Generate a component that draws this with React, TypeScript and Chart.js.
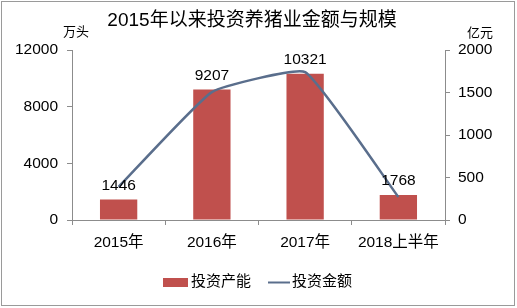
import React, { useEffect, useRef } from "react";
import { Chart, registerables } from "chart.js";

Chart.register(...registerables);

const categories = ["2015年", "2016年", "2017年", "2018上半年"];
const capacity = [1446, 9207, 10321, 1768];
const amount = [390, 1505, 1740, 270];
const leftTicks = [0, 4000, 8000, 12000];
const rightTicks = [0, 500, 1000, 1500, 2000];

const FONT = "'Liberation Sans', Arial, 'Noto Sans CJK SC', sans-serif";
const BAR = "#C0504D";
const LINE = "#5A6E8C";
const AXIS = "#8C8C8C";

const overlay = {
  id: "overlay",
  afterDatasetsDraw(chart: any) {
    const ctx = chart.ctx;
    ctx.save();
    ctx.strokeStyle = "#9A9A9A";
    ctx.lineWidth = 1;
    ctx.strokeRect(1.5, 1.5, 513, 304);
    ctx.fillStyle = "#000";
    ctx.textAlign = "center";
    ctx.textBaseline = "middle";
    ctx.font = `19px ${FONT}`;
    ctx.fillText("2015年以来投资养猪业金额与规模", 252, 21);
    ctx.font = `13px ${FONT}`;
    ctx.fillText("万头", 76, 32);
    ctx.fillText("亿元", 480, 33);
    const meta = chart.getDatasetMeta(0);
    ctx.font = `15.5px ${FONT}`;
    ctx.textBaseline = "alphabetic";
    meta.data.forEach((el: any, i: number) => {
      ctx.fillText(String(capacity[i]), el.x, el.y - 10);
    });
    ctx.fillStyle = BAR;
    ctx.fillRect(163, 278, 25, 9);
    ctx.strokeStyle = LINE;
    ctx.lineWidth = 2;
    ctx.beginPath();
    ctx.moveTo(268, 282.5);
    ctx.lineTo(290, 282.5);
    ctx.stroke();
    ctx.fillStyle = "#000";
    ctx.textAlign = "left";
    ctx.textBaseline = "middle";
    ctx.font = `15px ${FONT}`;
    ctx.fillText("投资产能", 191, 282);
    ctx.fillText("投资金额", 292, 282);
    ctx.restore();
  },
};

export default function App() {
  const ref = useRef<HTMLCanvasElement>(null);
  useEffect(() => {
    const tickFont = { size: 15.5, family: FONT };
    const chart = new Chart(ref.current!, {
      type: "bar",
      data: {
        labels: categories,
        datasets: [
          {
            type: "bar",
            label: "投资产能",
            data: capacity,
            backgroundColor: BAR,
            yAxisID: "y",
            categoryPercentage: 0.8,
            barPercentage: 0.5,
            order: 2,
          },
          {
            type: "line",
            label: "投资金额",
            data: amount,
            borderColor: LINE,
            backgroundColor: LINE,
            borderWidth: 2.5,
            pointRadius: 0,
            tension: 0.12,
            yAxisID: "y1",
            order: 1,
          } as any,
        ],
      },
      options: {
        animation: false,
        responsive: false,
        layout: { padding: { top: 50, left: 0, right: 0, bottom: 0 } },
        plugins: { legend: { display: false }, title: { display: false }, tooltip: { enabled: false } },
        scales: {
          x: {
            afterFit: (s: any) => { s.height = 88; },
            grid: { drawOnChartArea: false, drawTicks: true, tickLength: 5, color: AXIS, offset: true },
            border: { display: true, color: AXIS },
            ticks: { color: "#000", font: tickFont, padding: 8 },
          },
          y: {
            position: "left",
            min: 0,
            max: 12000,
            afterFit: (s: any) => { s.width = 72; },
            afterBuildTicks: (s: any) => { s.ticks = leftTicks.map((v) => ({ value: v })); },
            grid: { drawOnChartArea: false, drawTicks: true, tickLength: 5, color: AXIS },
            border: { display: true, color: AXIS },
            ticks: { color: "#000", font: tickFont, padding: 9, callback: (v: any) => String(v) },
          },
          y1: {
            position: "right",
            min: 0,
            max: 2000,
            afterFit: (s: any) => { s.width = 72; },
            afterBuildTicks: (s: any) => { s.ticks = rightTicks.map((v) => ({ value: v })); },
            grid: { drawOnChartArea: false, drawTicks: true, tickLength: 5, color: AXIS },
            border: { display: true, color: AXIS },
            ticks: { color: "#000", font: tickFont, padding: 8, callback: (v: any) => String(v) },
          },
        },
      },
      plugins: [overlay],
    });
    return () => chart.destroy();
  }, []);
  return (
    <div style={{ position: "fixed", left: 0, top: 0, width: 517, height: 308, background: "#fff" }}>
      <canvas ref={ref} width={517} height={308} style={{ width: 517, height: 308, display: "block" }} />
    </div>
  );
}
